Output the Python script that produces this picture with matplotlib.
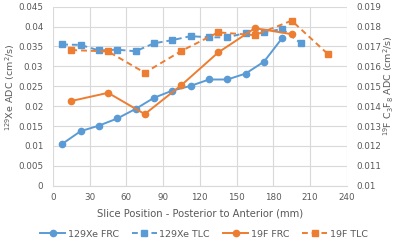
import numpy as np
import matplotlib.pyplot as plt
from matplotlib.ticker import FuncFormatter, MultipleLocator

# slice positions (mm)
xe_x = [7.5, 22.5, 37.5, 52.5, 67.5, 82.5, 97.5, 112.5, 127.5, 142.5, 157.5, 172.5, 187.5]
xe_tlc_x = xe_x + [202.5]
f_x = [15, 45, 75, 105, 135, 165, 195]
f_tlc_x = f_x + [225]

# 129Xe ADC (left axis)
xe_frc = [0.0105, 0.0137, 0.0151, 0.0169, 0.0193, 0.0221, 0.0239, 0.0251,
          0.0267, 0.0267, 0.0282, 0.0312, 0.0372]
xe_tlc = [0.0355, 0.0354, 0.0340, 0.0342, 0.0338, 0.0358, 0.0366, 0.0376,
          0.0373, 0.0373, 0.0384, 0.0386, 0.0394, 0.0358]

# 19F C3F8 ADC (right axis)
f_frc = [0.01426, 0.01467, 0.01360, 0.01506, 0.01670, 0.01792, 0.01762]
f_tlc = [0.01682, 0.01675, 0.01568, 0.01678, 0.01771, 0.01757, 0.01830, 0.01660]

blue = '#5B9BD5'
orange = '#ED7D31'
grey = '#595959'

fig = plt.figure(figsize=(4, 2.42), dpi=100)
ax = fig.add_axes([0.1325, 0.2326, 0.7342, 0.7397])
ax2 = ax.twinx()

fmt = FuncFormatter(lambda v, p: f"{round(v, 4):g}")

h1, = ax.plot(xe_x, xe_frc, '-o', color=blue, lw=1.4, ms=4.5, label='129Xe FRC')
h2, = ax.plot(xe_tlc_x, xe_tlc, '--s', color=blue, lw=1.4, ms=4.5, label='129Xe TLC',
              dashes=(3, 2))
h3, = ax2.plot(f_x, f_frc, '-o', color=orange, lw=1.4, ms=4.5, label='19F FRC')
h4, = ax2.plot(f_tlc_x, f_tlc, '--s', color=orange, lw=1.4, ms=4.5, label='19F TLC',
               dashes=(3, 2))

ax.set_xlim(0, 240)
ax.set_ylim(0, 0.045)
ax2.set_ylim(0.01, 0.019)
ax.xaxis.set_major_locator(MultipleLocator(30))
ax.yaxis.set_major_locator(MultipleLocator(0.005))
ax2.yaxis.set_major_locator(MultipleLocator(0.001))
ax.yaxis.set_major_formatter(fmt)
ax2.yaxis.set_major_formatter(fmt)

ax.grid(True, color='#d9d9d9', lw=0.8)
ax.set_axisbelow(True)
for a in (ax, ax2):
    for s in a.spines.values():
        s.set_visible(False)
    a.tick_params(length=0, labelsize=6.3, colors=grey, pad=7)
ax.tick_params(axis='x', pad=5)
ax.spines['bottom'].set_visible(True)
ax.spines['bottom'].set_color('#d9d9d9')

# axis titles placed as figure text so they stay inside the canvas
fig.text(10 / 400, 1 - 87 / 242, '$^{129}$Xe ADC (cm$^2$/s)', fontsize=6.8, color=grey,
         rotation=90, ha='center', va='center')
fig.text(389 / 400, 1 - 86 / 242, '$^{19}$F C$_3$F$_8$ ADC (cm$^2$/s)', fontsize=6.8,
         color=grey, rotation=90, ha='center', va='center')
ax.set_xlabel('Slice Position - Posterior to Anterior (mm)', fontsize=7.2, color=grey,
              labelpad=5)

fig.legend(handles=[h1, h2, h3, h4], loc='center', bbox_to_anchor=(0.51, 0.033),
           ncol=4, frameon=False, fontsize=6.8, labelcolor=grey, handlelength=2.6,
           columnspacing=1.4, handletextpad=0.3)

fig.savefig('out.png', dpi=100)
